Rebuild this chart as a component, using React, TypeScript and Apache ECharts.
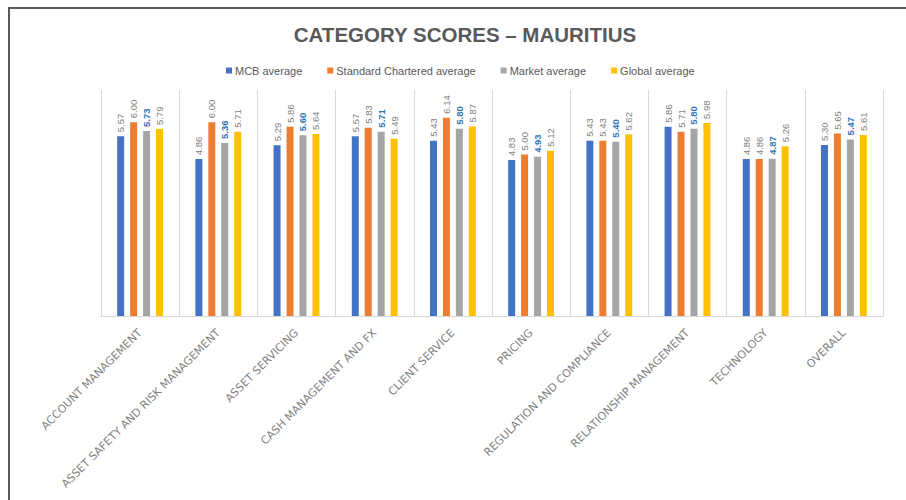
import React, { useEffect, useRef } from "react";
import * as echarts from "echarts";

const categories = [
  "ACCOUNT MANAGEMENT",
  "ASSET SAFETY AND RISK MANAGEMENT",
  "ASSET SERVICING",
  "CASH MANAGEMENT AND FX",
  "CLIENT SERVICE",
  "PRICING",
  "REGULATION AND COMPLIANCE",
  "RELATIONSHIP MANAGEMENT",
  "TECHNOLOGY",
  "OVERALL",
];
const mcbAverage = [5.57, 4.86, 5.29, 5.57, 5.43, 4.83, 5.43, 5.86, 4.86, 5.3];
const standardCharteredAverage = [6.0, 6.0, 5.86, 5.83, 6.14, 5.0, 5.43, 5.71, 4.86, 5.65];
const marketAverage = [5.73, 5.36, 5.6, 5.71, 5.8, 4.93, 5.4, 5.8, 4.87, 5.47];
const globalAverage = [5.79, 5.71, 5.64, 5.49, 5.87, 5.12, 5.62, 5.98, 5.26, 5.61];

const seriesNames = ["MCB average", "Standard Chartered average", "Market average", "Global average"];
const seriesData = [mcbAverage, standardCharteredAverage, marketAverage, globalAverage];
const seriesColors = ["#4472C4", "#ED7D31", "#A5A5A5", "#FFC000"];
const labelColors = ["#7F7F7F", "#7F7F7F", "#2E75B6", "#7F7F7F"];

export default function App() {
  const ref = useRef<HTMLDivElement>(null);
  useEffect(() => {
    if (!ref.current) return;
    const chart = echarts.init(ref.current, null, { renderer: "svg" });
    const font = "'Liberation Sans', 'DejaVu Sans', sans-serif";
    chart.setOption({
      animation: false,
      backgroundColor: "#ffffff",
      textStyle: { fontFamily: font },
      title: {
        text: "CATEGORY SCORES – MAURITIUS",
        left: 460,
        textAlign: "center",
        top: 19,
        textStyle: { fontSize: 20.5, fontWeight: "bold", color: "#595959", fontFamily: font },
      },
      legend: {
        top: 60,
        left: 221,
        itemWidth: 6,
        itemHeight: 6,
        itemGap: 25,
        icon: "rect",
        textStyle: { fontSize: 11, color: "#595959", fontFamily: font, padding: [0, 0, 0, -2] },
        data: seriesNames,
      },
      graphic: [
        {
          type: "rect",
          shape: { x: 9, y: 8, width: 940, height: 540 },
          style: { fill: "none", stroke: "#595959", lineWidth: 2 },
          silent: true,
        },
      ],
      grid: { left: 101, right: 23, top: 90, bottom: 184, containLabel: false },
      xAxis: {
        type: "category",
        data: categories,
        axisLine: { show: true, lineStyle: { color: "#D9D9D9", width: 1 } },
        axisTick: { show: false },
        splitLine: { show: true, lineStyle: { color: "#D9D9D9", width: 1 } },
        axisLabel: {
          interval: 0,
          rotate: 45,
          fontSize: 11,
          color: "#7F7F7F",
          margin: 15,
          fontFamily: "'DejaVu Sans', sans-serif",
        },
      },
      yAxis: {
        type: "value",
        min: 0,
        max: 7,
        show: false,
        splitLine: { show: false },
      },
      series: seriesNames.map((name, i) => ({
        name,
        type: "bar",
        data: seriesData[i],
        barWidth: 7,
        barGap: "85%",
        itemStyle: { color: seriesColors[i] },
        label: {
          show: true,
          position: "top",
          rotate: 90,
          align: "left",
          verticalAlign: "middle",
          distance: 4,
          fontSize: 9.5,
          color: labelColors[i],
          fontWeight: i === 2 ? "bold" : "normal",
          formatter: (p: any) => Number(p.value).toFixed(2),
        },
      })),
    });
    return () => chart.dispose();
  }, []);
  return (
    <div
      ref={ref}
      style={{ position: "absolute", left: 0, top: 0, width: 906, height: 500 }}
    />
  );
}
